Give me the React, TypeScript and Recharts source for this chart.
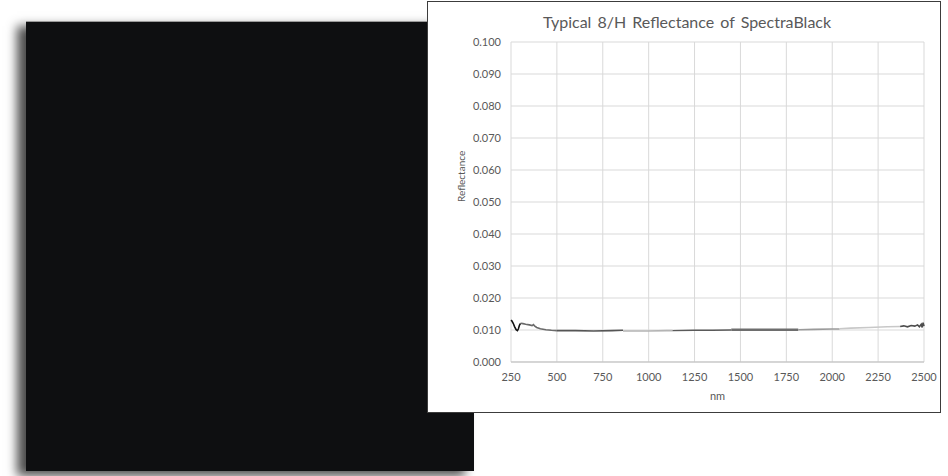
import React from 'react'
import { LineChart, Line, XAxis, YAxis, CartesianGrid } from 'recharts'

// wavelength ticks (nm) and reflectance ticks
const xTicks = [250, 500, 750, 1000, 1250, 1500, 1750, 2000, 2250, 2500]
const yTicks = [0, 0.01, 0.02, 0.03, 0.04, 0.05, 0.06, 0.07, 0.08, 0.09, 0.1]

// the curve is spliced from several detector ranges, each drawn in its own shade
const uvNm = [250, 255, 262, 270, 278, 285, 290, 296, 302]
const uvR = [0.0131, 0.0128, 0.0121, 0.011, 0.0101, 0.0098, 0.0103, 0.0115, 0.0121]

const blueNm = [302, 315, 330, 350, 365, 372, 378, 390, 410, 440, 470, 500]
const blueR = [0.0121, 0.012, 0.0118, 0.0116, 0.0114, 0.0117, 0.0113, 0.0108, 0.0104, 0.0101, 0.0099, 0.0098]

const visNm = [500, 600, 700, 800, 860]
const visR = [0.0098, 0.0098, 0.0097, 0.0098, 0.0099]

const nirNm = [860, 900, 1000, 1100, 1130]
const nirR = [0.0097, 0.0097, 0.0097, 0.0098, 0.0098]

const swir1Nm = [1130, 1250, 1350, 1450]
const swir1R = [0.0098, 0.0099, 0.0099, 0.01]

const swir2Nm = [1450, 1550, 1650, 1750, 1815]
const swir2R = [0.0101, 0.0101, 0.0101, 0.0101, 0.0101]

const swir3Nm = [1815, 1900, 2000, 2040]
const swir3R = [0.0101, 0.0102, 0.0103, 0.0103]

const swir4Nm = [2040, 2100, 2200, 2300, 2370]
const swir4R = [0.0104, 0.0106, 0.0108, 0.011, 0.0111]

const tailNm = [2370, 2390, 2410, 2430, 2450, 2465, 2475, 2485, 2490, 2495, 2500]
const tailR = [0.0111, 0.0113, 0.011, 0.0114, 0.0112, 0.0116, 0.011, 0.0118, 0.0108, 0.0123, 0.0112]

const toRows = (nm: number[], r: number[]) => nm.map((x, i) => ({ nm: x, r: r[i] }))

const segments = [
  { key: 'uv', data: toRows(uvNm, uvR), color: '#111111', width: 1.6 },
  { key: 'blue', data: toRows(blueNm, blueR), color: '#6a6a6a', width: 1.6 },
  { key: 'vis', data: toRows(visNm, visR), color: '#555555', width: 1.6 },
  { key: 'nir', data: toRows(nirNm, nirR), color: '#b4b4b4', width: 1.6 },
  { key: 'swir1', data: toRows(swir1Nm, swir1R), color: '#5a5a5a', width: 1.4 },
  { key: 'swir2', data: toRows(swir2Nm, swir2R), color: '#6e6e6e', width: 2.4 },
  { key: 'swir3', data: toRows(swir3Nm, swir3R), color: '#9a9a9a', width: 1.6 },
  { key: 'swir4', data: toRows(swir4Nm, swir4R), color: '#c8c8c8', width: 1.6 },
  { key: 'tail', data: toRows(tailNm, tailR), color: '#4d4d4d', width: 1.6 },
]

const font = 'Lato, "Open Sans", sans-serif'
const tickStyle = { fill: '#595959', fontSize: 11, fontFamily: font }

export default function App() {
  return (
    <div style={{ position: 'absolute', left: 0, top: 0, width: 948, height: 476, background: '#fff', overflow: 'hidden' }}>
      {/* black sample swatch */}
      <div
        style={{
          position: 'absolute',
          left: 26,
          top: 21,
          width: 448,
          height: 449,
          background: '#0e0f11',
          boxShadow: '-9px 5px 10px rgba(0,0,0,0.7)',
          borderTop: '1px solid #9a9a9a',
        }}
      />
      {/* chart panel */}
      <div
        style={{
          position: 'absolute',
          left: 427,
          top: 1,
          width: 512,
          height: 410,
          background: '#fff',
          border: '1px solid #3c3c3c',
        }}
      >
        <div
          style={{
            position: 'absolute',
            left: 0,
            width: 518,
            top: 10,
            textAlign: 'center',
            fontFamily: font,
            fontSize: 16,
            color: '#595959',
            wordSpacing: 2,
          }}
        >
          Typical 8/H Reflectance of SpectraBlack
        </div>
        <LineChart width={512} height={410} margin={{ top: 40, right: 16, bottom: 10, left: 23 }}>
          <CartesianGrid stroke="#d9d9d9" strokeWidth={1} />
          <XAxis
            dataKey="nm"
            type="number"
            domain={[250, 2500]}
            ticks={xTicks}
            interval={0}
            allowDuplicatedCategory={false}
            axisLine={{ stroke: '#bfbfbf' }}
            tickLine={false}
            tickSize={0}
            tickMargin={11}
            tick={tickStyle}
            height={40}
            label={{ value: 'nm', position: 'insideBottom', offset: 2, fill: '#595959', fontSize: 11, fontFamily: font }}
          />
          <YAxis
            type="number"
            domain={[0, 0.1]}
            ticks={yTicks}
            interval={0}
            tickFormatter={(v: number) => v.toFixed(3)}
            axisLine={false}
            tickLine={false}
            tickSize={0}
            tickMargin={10}
            tick={tickStyle}
            width={60}
            label={{ value: 'Reflectance', angle: -90, position: 'insideLeft', offset: 10, fill: '#595959', fontSize: 10, fontFamily: font }}
          />
          {segments.map((s) => (
            <Line
              key={s.key}
              data={s.data}
              dataKey="r"
              type="linear"
              stroke={s.color}
              strokeWidth={s.width}
              dot={false}
              isAnimationActive={false}
            />
          ))}
        </LineChart>
      </div>
    </div>
  )
}
